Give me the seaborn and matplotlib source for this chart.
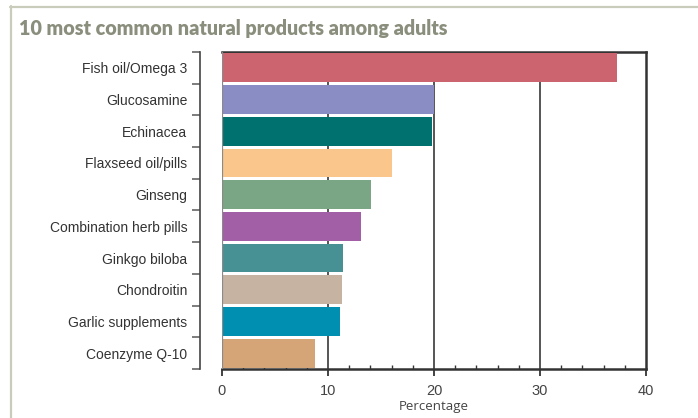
import matplotlib
matplotlib.use("Agg")
import matplotlib.pyplot as plt
from matplotlib.lines import Line2D
from matplotlib.ticker import FixedLocator, MultipleLocator
import seaborn as sns
import pandas as pd

# Share of adults using each natural product (%)
products = [
    "Fish oil/Omega 3", "Glucosamine", "Echinacea", "Flaxseed oil/pills",
    "Ginseng", "Combination herb pills", "Ginkgo biloba", "Chondroitin",
    "Garlic supplements", "Coenzyme Q-10",
]
percent = [37.3, 20.0, 19.8, 16.0, 14.1, 13.1, 11.4, 11.3, 11.1, 8.8]
bar_colors = [
    "#CC6470", "#8A8DC3", "#00716F", "#FBC68B", "#7BA686",
    "#A35FA5", "#479195", "#C7B3A1", "#008FB0", "#D5A577",
]
x_ticks = [0, 10, 20, 30, 40]

df = pd.DataFrame({"product": products, "percent": percent})

sns.set_style("white")
plt.rcParams["font.family"] = ["Liberation Sans", "DejaVu Sans"]

W, H = 698, 418
fig = plt.figure(figsize=(W / 100, H / 100), dpi=100)
ax = fig.add_axes([222 / W, 1 - 369 / H, 424 / W, 317 / H])

sns.barplot(data=df, y="product", x="percent", hue="product",
            palette=bar_colors, legend=False, width=0.91,
            saturation=1, ax=ax, zorder=3, linewidth=0)

ax.set_xlim(0, 40)
ax.set_ylim(9.5, -0.5)

# vertical grid lines
for v in x_ticks[1:-1]:
    ax.axvline(v, color="#555555", lw=1.4, zorder=1)
ax.axvline(0, color="#8a8a8a", lw=1.6, zorder=4)

# frame spines of plotting area
for side in ["top", "right", "bottom"]:
    ax.spines[side].set_color("#333333")
    ax.spines[side].set_linewidth(1.8)
ax.spines["left"].set_position(("outward", 16))
ax.spines["left"].set_color("#444444")
ax.spines["left"].set_linewidth(1.2)

# x axis ticks
ax.xaxis.set_major_locator(FixedLocator(x_ticks))
ax.xaxis.set_minor_locator(MultipleLocator(2))
ax.tick_params(axis="x", which="major", direction="out", length=5,
               width=1.2, color="#222222", labelsize=10.5,
               labelcolor="#444444", pad=6, bottom=True)
ax.tick_params(axis="x", which="minor", direction="in", length=3,
               width=1, color="#333333", bottom=True)
ax.set_xlabel("Percentage", fontsize=9.5, color="#444444",
              family=["Open Sans", "DejaVu Sans"], labelpad=1)

# y axis: bracket ticks between categories, labels centred on bars
ax.yaxis.set_minor_locator(FixedLocator([i - 0.5 for i in range(len(products) + 1)]))
ax.tick_params(axis="y", which="minor", direction="out", length=6,
               width=1.2, color="#666666", left=True)
ax.tick_params(axis="y", which="major", length=0, pad=9,
               labelsize=10, labelcolor="#333333")
ax.set_ylabel("")

# title and outer frame
fig.text(19 / W, 1 - 35 / H, "10 most common natural products among adults",
         fontsize=14.2, fontweight="heavy", color="#8A8E7C",
         family=["Lato", "DejaVu Sans"], va="baseline", ha="left")
frame_col = "#C9CCBA"
fig.add_artist(Line2D([10.5 / W, 10.5 / W], [0, 1 - 6 / H],
                      transform=fig.transFigure, color=frame_col, lw=1.6))
fig.add_artist(Line2D([10 / W, 1], [1 - 6.5 / H, 1 - 6.5 / H],
                      transform=fig.transFigure, color=frame_col, lw=1.6))

fig.savefig("out.png", dpi=100)
